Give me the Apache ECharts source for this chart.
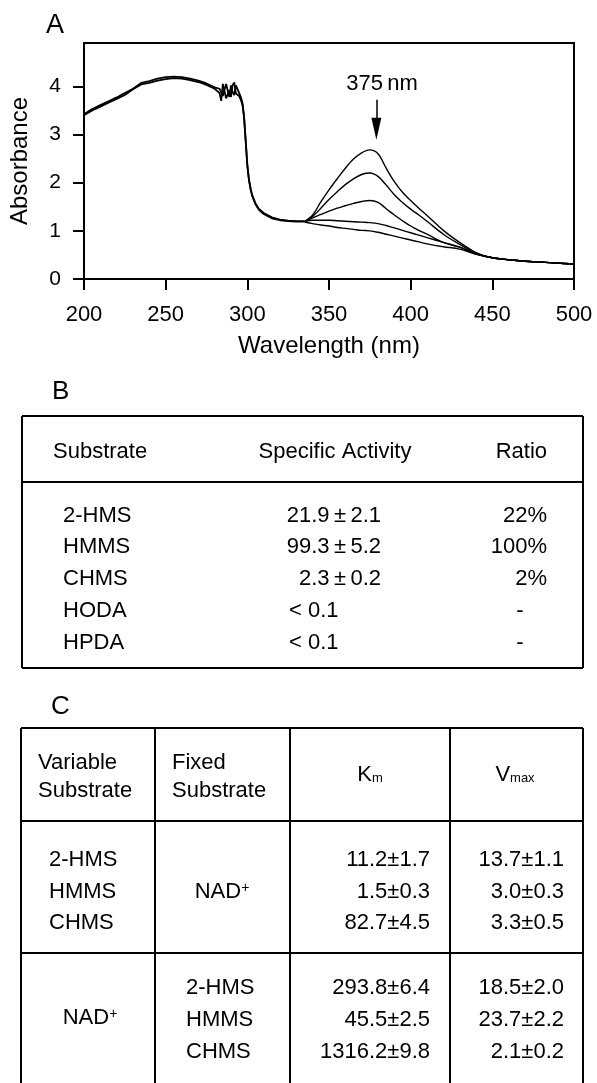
<!DOCTYPE html>
<html><head><meta charset="utf-8">
<script src="https://cdn.jsdelivr.net/npm/echarts@6/dist/echarts.min.js"></script>
<style>html,body{margin:0;padding:0;background:#fff}#c{width:597px;height:1083px}</style>
</head><body><div id="c"></div>
<script>
const FONT = 'Liberation Sans, Arial, Helvetica, sans-serif';

// ---- Panel A data (absorbance spectra) ----
const xTicks = [200, 250, 300, 350, 400, 450, 500];
const yTicks = [0, 1, 2, 3, 4];
// common part shared by all spectra (200-335 nm), two traces of the braided band
const wlCommon = [200,205,210,215,220,225,230,235,240,245,250,255,260,265,270,275,280,283,284,285,287,289,290,291,292,293,295,296,297,298,299,300,301,302,303,305,307,310,315,320,325,330,335];
const absCommonA = [3.40,3.50,3.58,3.66,3.74,3.82,3.94,4.04,4.07,4.12,4.15,4.17,4.16,4.13,4.09,4.03,3.95,3.86,3.70,4.05,3.75,3.92,3.78,4.03,4.08,3.85,3.80,3.72,3.62,3.35,2.85,2.35,2.05,1.86,1.72,1.55,1.44,1.35,1.26,1.22,1.20,1.19,1.19];
const absCommonB = [3.42,3.53,3.61,3.69,3.77,3.86,3.95,4.07,4.11,4.16,4.19,4.20,4.19,4.16,4.12,4.06,3.98,3.95,3.92,3.80,4.05,3.78,4.02,3.88,3.82,4.02,3.86,3.78,3.66,3.38,2.88,2.37,2.07,1.88,1.74,1.57,1.46,1.37,1.28,1.235,1.21,1.20,1.20];
// individual spectra beyond 335 nm
const wlTail = [335,340,345,350,355,360,365,370,375,380,385,390,395,400,405,410,420,430,440,450,460,470,480,490,500];
const absTail1 = [1.19,1.33,1.60,1.85,2.08,2.30,2.49,2.62,2.68,2.60,2.30,2.02,1.80,1.63,1.47,1.32,1.01,0.76,0.55,0.44,0.40,0.37,0.35,0.33,0.31];
const absTail2 = [1.19,1.30,1.47,1.65,1.81,1.96,2.08,2.17,2.20,2.13,1.95,1.75,1.59,1.45,1.33,1.20,0.93,0.72,0.53,0.44,0.40,0.37,0.35,0.33,0.31];
const absTail3 = [1.19,1.27,1.34,1.41,1.47,1.52,1.57,1.61,1.63,1.59,1.46,1.33,1.21,1.10,1.01,0.93,0.76,0.66,0.52,0.44,0.40,0.37,0.35,0.33,0.31];
const absTail4 = [1.19,1.22,1.22,1.22,1.21,1.20,1.19,1.18,1.17,1.15,1.11,1.06,1.01,0.96,0.91,0.86,0.76,0.66,0.52,0.44,0.40,0.37,0.35,0.33,0.31];
const absTail5 = [1.18,1.15,1.12,1.10,1.07,1.05,1.03,1.01,1.00,0.97,0.93,0.89,0.85,0.81,0.77,0.73,0.67,0.62,0.51,0.44,0.40,0.37,0.35,0.33,0.31];
const tails = [absTail1, absTail2, absTail3, absTail4, absTail5];
const peakLabel = '375\u2009nm';

// ---- Panel B table ----
const tableBHeader = ['Substrate', 'Specific Activity', 'Ratio'];
const tableBSubstrate = ['2-HMS', 'HMMS', 'CHMS', 'HODA', 'HPDA'];
const tableBActivity = ['21.9\u2009±\u20092.1', '99.3\u2009±\u20095.2', '2.3\u2009±\u20090.2', '< 0.1', '< 0.1'];
const tableBRatio = ['22%', '100%', '2%', '-', '-'];

// ---- Panel C table ----
const tableCHeader1 = ['Variable', 'Substrate'];
const tableCHeader2 = ['Fixed', 'Substrate'];
const groupVariable = ['2-HMS', 'HMMS', 'CHMS'];
const groupFixed = ['2-HMS', 'HMMS', 'CHMS'];
const km1 = ['11.2±1.7', '1.5±0.3', '82.7±4.5'];
const vmax1 = ['13.7±1.1', '3.0±0.3', '3.3±0.5'];
const km2 = ['293.8±6.4', '45.5±2.5', '1316.2±9.8'];
const vmax2 = ['18.5±2.0', '23.7±2.2', '2.1±0.2'];

const chart = echarts.init(document.getElementById('c'), null, {renderer: 'canvas'});

function txt(x, y, text, opts) {
  return {type: 'text', x: x, y: y, silent: true, z: 10,
    style: Object.assign({text: text, fontSize: 22, fontFamily: FONT, fill: '#000', align: 'left', verticalAlign: 'middle'}, opts || {})};
}
function ln(x1, y1, x2, y2, w) {
  return {type: 'line', silent: true, z: 10, shape: {x1: x1, y1: y1, x2: x2, y2: y2}, style: {stroke: '#000', lineWidth: w || 2}};
}

const g = [];
// panel letters
g.push(txt(46, 26, 'A', {fontSize: 27}));
g.push(txt(52, 392, 'B', {fontSize: 26}));
g.push(txt(51, 707, 'C', {fontSize: 26}));

// Table B frame
const bL = 22, bR = 583, bT = 416, bH = 482, bB = 668;
g.push(ln(bL, bT, bR, bT), ln(bL, bB, bR, bB), ln(bL, bT, bL, bB), ln(bR, bT, bR, bB), ln(bL, bH, bR, bH));
g.push(txt(53, 452, tableBHeader[0]));
g.push(txt(335, 452, tableBHeader[1], {align: 'center'}));
g.push(txt(547, 452, tableBHeader[2], {align: 'right'}));
tableBSubstrate.forEach(function (s, i) {
  const y = 515.5 + i * 31.8;
  g.push(txt(63, y, s));
  const a = tableBActivity[i];
  if (a.charAt(0) === '<') g.push(txt(289, y, a));
  else g.push(txt(381, y, a, {align: 'right'}));
  const r = tableBRatio[i];
  if (r === '-') g.push(txt(520, y, r, {align: 'center'}));
  else g.push(txt(547, y, r, {align: 'right'}));
});

// Table C frame
const cL = 21, cR = 583, cT = 728, cH = 821, cM = 953, cBot = 1090;
const cV = [155, 290, 450];
g.push(ln(cL, cT, cR, cT), ln(cL, cH, cR, cH), ln(cL, cM, cR, cM), ln(cL, cT, cL, cBot), ln(cR, cT, cR, cBot));
cV.forEach(function (x) { g.push(ln(x, cT, x, cBot)); });
g.push(txt(38, 763, tableCHeader1[0]), txt(38, 791, tableCHeader1[1]));
g.push(txt(172, 763, tableCHeader2[0]), txt(172, 791, tableCHeader2[1]));
g.push(txt(370, 775, '{a|K}{s|m}', {align: 'center', rich: {a: {fontSize: 22, fontFamily: FONT, verticalAlign: 'bottom'}, s: {fontSize: 13, fontFamily: FONT, verticalAlign: 'bottom', padding: [0, 0, 1, 0]}}}));
g.push(txt(515, 775, '{a|V}{s|max}', {align: 'center', rich: {a: {fontSize: 22, fontFamily: FONT, verticalAlign: 'bottom'}, s: {fontSize: 13, fontFamily: FONT, verticalAlign: 'bottom', padding: [0, 0, 1, 0]}}}));
const nadRich = {a: {fontSize: 22, fontFamily: FONT, verticalAlign: 'bottom'}, p: {fontSize: 14, fontFamily: FONT, verticalAlign: 'top'}};
groupVariable.forEach(function (s, i) {
  const y = 860 + i * 31.7;
  g.push(txt(49, y, s));
  g.push(txt(430, y, km1[i], {align: 'right'}));
  g.push(txt(564, y, vmax1[i], {align: 'right'}));
});
g.push(txt(222, 891.7, '{a|NAD}{p|+}', {align: 'center', rich: nadRich}));
groupFixed.forEach(function (s, i) {
  const y = 988.3 + i * 31.7;
  g.push(txt(186, y, s));
  g.push(txt(430, y, km2[i], {align: 'right'}));
  g.push(txt(564, y, vmax2[i], {align: 'right'}));
});
g.push(txt(90, 1018.3, '{a|NAD}{p|+}', {align: 'center', rich: nadRich}));

const series = [absCommonA, absCommonB].map(function (arr) {
  return {
    type: 'line', data: wlCommon.map(function (w, i) { return [w, arr[i]]; }),
    showSymbol: false, symbol: 'none', lineStyle: {color: '#000', width: 1.8}, z: 3, animation: false
  };
});
tails.forEach(function (arr) {
  series.push({
    type: 'line', data: wlTail.map(function (w, i) { return [w, arr[i]]; }),
    showSymbol: false, symbol: 'none', smooth: 0.35, lineStyle: {color: '#000', width: 1.4}, z: 3, animation: false
  });
});
// arrow + label annotation
series.push({
  type: 'line', data: [], animation: false,
  markLine: {silent: true, symbol: ['none', 'none'], lineStyle: {color: '#000', width: 1.5, type: 'solid'}, label: {show: false},
    data: [[{coord: [379, 3.72]}, {coord: [379, 3.2]}]]},
  markPoint: {silent: true, animation: false, data: [
    {coord: [379, 3.12], symbol: 'path://M0,0 L10,0 L5,22 Z', symbolSize: [10, 22], itemStyle: {color: '#000'}, label: {show: false}},
    {coord: [382.5, 4.06], symbol: 'circle', symbolSize: 0, label: {show: true, position: 'inside', formatter: peakLabel, fontSize: 22, fontFamily: FONT, color: '#000'}}
  ]}
});

chart.setOption({
  animation: false,
  backgroundColor: '#fff',
  textStyle: {fontFamily: FONT},
  grid: {left: 84, top: 43, width: 490, height: 236, show: true, borderColor: '#000', borderWidth: 2, backgroundColor: 'transparent'},
  xAxis: {
    type: 'value', min: xTicks[0], max: xTicks[xTicks.length - 1], interval: 50,
    axisLine: {show: true, onZero: false, lineStyle: {color: '#000', width: 2}},
    axisTick: {show: true, length: 11, lineStyle: {color: '#000', width: 2}},
    axisLabel: {fontSize: 22, color: '#000', margin: 25, fontFamily: FONT},
    splitLine: {show: false},
    name: 'Wavelength (nm)', nameLocation: 'middle', nameGap: 55,
    nameTextStyle: {fontSize: 24, color: '#000', fontFamily: FONT}
  },
  yAxis: {
    type: 'value', min: 0, max: 4.9, interval: 1,
    axisLine: {show: true, lineStyle: {color: '#000', width: 2}},
    axisTick: {show: true, length: 11, customValues: yTicks, lineStyle: {color: '#000', width: 2}},
    axisLabel: {fontSize: 21, color: '#000', margin: 23, customValues: yTicks, fontFamily: FONT},
    splitLine: {show: false},
    name: 'Absorbance', nameLocation: 'middle', nameGap: 52,
    nameTextStyle: {fontSize: 24, color: '#000', fontFamily: FONT}
  },
  series: series,
  graphic: g
});
</script>
</body></html>
